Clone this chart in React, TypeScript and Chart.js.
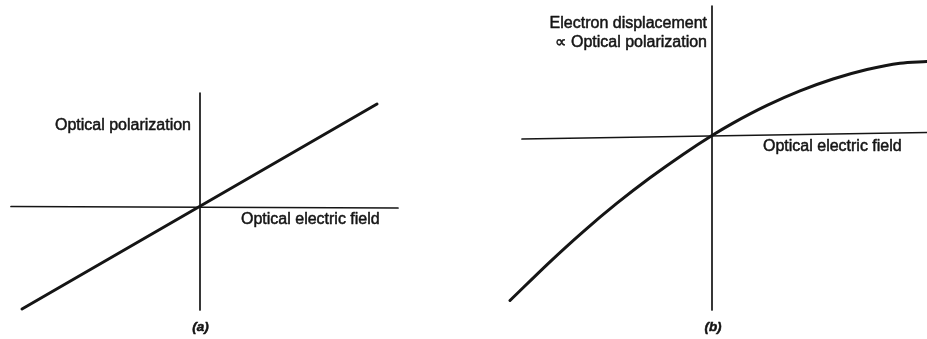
import React, { useEffect, useRef } from "react";
import { Chart, registerables } from "chart.js";

Chart.register(...registerables);

// ---------- Data (arbitrary units, origin at axis crossing) ----------
// Panel (a): linear response — optical polarization vs optical electric field
const fieldA = [-1.78, 1.77];
const polarizationA = [-1.02, 1.03];

// Panel (b): nonlinear response — electron displacement vs optical electric field
const fieldB = [-2.02, -1.62, -1.29, -0.95, -0.62, -0.29, 0, 0.21, 0.55, 0.88, 1.21, 1.55, 1.88, 2.15];
const displacementB = [-1.65, -1.263, -0.963, -0.677, -0.423, -0.189, 0, 0.124, 0.301, 0.446, 0.565, 0.66, 0.723, 0.74];

// Axis line extents (as drawn in the figure)
const axisAHorizX = [-1.89, 1.98];
const axisAHorizY = [0.005, -0.01];
const axisAVertX = [0, 0];
const axisAVertY = [1.14, -1.03];

const axisBHorizX = [-1.9, 2.15];
const axisBHorizY = [-0.035, 0.03];
const axisBVertX = [0, 0];
const axisBVertY = [1.295, -1.745];

// Texts
const labelsA = ["Optical polarization", "Optical electric field", "(a)"];
const labelsB = ["Electron displacement", "\u221D Optical polarization", "Optical electric field", "(b)"];

// ---------- Helpers ----------
const INK = "#151515";
const FONT = '"Liberation Sans", Arial, sans-serif';

const zip = (xs: number[], ys: number[]) => xs.map((x, i) => ({ x, y: ys[i] }));

const textPlugin = {
  id: "panelText",
  afterDatasetsDraw(chart: any, _args: any, opts: any) {
    const { ctx } = chart;
    const xs = chart.scales.x;
    const ys = chart.scales.y;
    ctx.save();
    ctx.fillStyle = INK;
    ctx.strokeStyle = INK;
    ctx.lineWidth = 0.5;
    ctx.lineJoin = "round";
    ctx.textBaseline = "middle";
    for (const t of opts.items || []) {
      ctx.font = t.font;
      ctx.textAlign = t.align;
      const px = xs.getPixelForValue(t.x);
      const py = ys.getPixelForValue(t.y);
      ctx.fillText(t.text, px, py);
      ctx.strokeText(t.text, px, py);
    }
    ctx.restore();
  },
};

function lineDs(data: { x: number; y: number }[], width: number, smooth = false) {
  return {
    data,
    showLine: true,
    borderColor: INK,
    backgroundColor: INK,
    borderWidth: width,
    pointRadius: 0,
    pointHoverRadius: 0,
    fill: false,
    tension: smooth ? 0.4 : 0,
    cubicInterpolationMode: smooth ? ("monotone" as const) : ("default" as const),
    borderCapStyle: "round" as const,
    clip: false as any,
  };
}

function makeOptions(range: any, padding: any, items: any[]) {
  return {
    animation: false as const,
    responsive: false,
    events: [] as any[],
    layout: { padding },
    scales: {
      x: { type: "linear" as const, display: false, min: range.xmin, max: range.xmax },
      y: { type: "linear" as const, display: false, min: range.ymin, max: range.ymax },
    },
    plugins: {
      legend: { display: false },
      tooltip: { enabled: false },
      title: { display: false },
      panelText: { items },
    } as any,
  };
}

const mainFont = `16px ${FONT}`;
const capFont = `italic bold 13.5px ${FONT}`;

function Panel({ width, config }: { width: number; config: () => any }) {
  const ref = useRef<HTMLCanvasElement | null>(null);
  useEffect(() => {
    if (!ref.current) return;
    const chart = new Chart(ref.current, config());
    return () => chart.destroy();
  }, []);
  return <canvas ref={ref} width={width} height={339} style={{ display: "block", width, height: 339 }} />;
}

const configA = () => ({
  type: "scatter" as const,
  data: {
    datasets: [
      lineDs(zip(axisAHorizX, axisAHorizY), 1.7),
      lineDs(zip(axisAVertX, axisAVertY), 1.7),
      lineDs(zip(fieldA, polarizationA), 3),
    ],
  },
  options: makeOptions(
    { xmin: -1.9, xmax: 2.0, ymin: -1.05, ymax: 1.17 },
    { left: 10, right: 63, top: 90, bottom: 27 },
    [
      { text: labelsA[0], x: -0.09, y: 0.81, align: "right", font: mainFont },
      { text: labelsA[1], x: 0.41, y: -0.13, align: "left", font: mainFont },
      { text: labelsA[2], x: 0.005, y: -1.2, align: "center", font: capFont },
    ]
  ),
  plugins: [textPlugin],
});

const configB = () => ({
  type: "scatter" as const,
  data: {
    datasets: [
      lineDs(zip(axisBHorizX, axisBHorizY), 1.7),
      lineDs(zip(axisBVertX, axisBVertY), 1.7),
      lineDs(zip(fieldB, displacementB), 3, true),
    ],
  },
  options: makeOptions(
    { xmin: -2.09, xmax: 2.15, ymin: -1.785, ymax: 1.315 },
    { left: 40, right: 0, top: 4, bottom: 25 },
    [
      { text: labelsB[0], x: -0.05, y: 1.115, align: "right", font: mainFont },
      { text: labelsB[1], x: -0.05, y: 0.925, align: "right", font: mainFont },
      { text: labelsB[2], x: 0.51, y: -0.115, align: "left", font: mainFont },
      { text: labelsB[3], x: 0.01, y: -1.915, align: "center", font: capFont },
    ]
  ),
  plugins: [textPlugin],
});

export default function App() {
  return (
    <div
      style={{
        position: "fixed",
        left: 0,
        top: 0,
        width: 927,
        height: 339,
        background: "#ffffff",
        display: "flex",
        overflow: "hidden",
      }}
    >
      <Panel width={463} config={configA} />
      <Panel width={464} config={configB} />
    </div>
  );
}
